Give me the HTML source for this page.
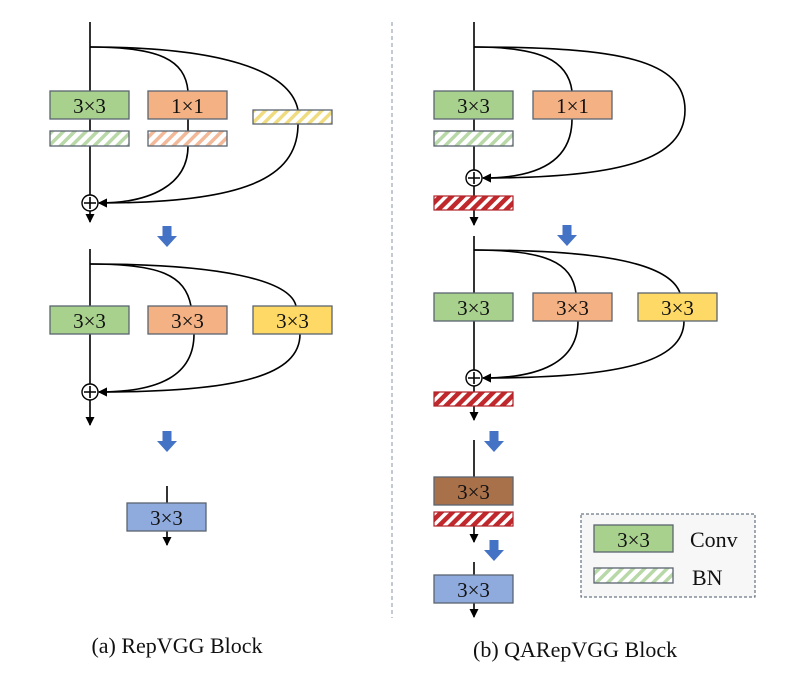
<!DOCTYPE html>
<html><head><meta charset="utf-8"><style>
html,body{margin:0;padding:0;background:#fff;width:790px;height:682px;overflow:hidden}
svg{display:block}
text{font-family:"Liberation Serif","Noto Serif CJK SC",serif}
</style></head><body>
<svg width="790" height="682" viewBox="0 0 790 682" xmlns="http://www.w3.org/2000/svg">
<defs>
<pattern id="hg" patternUnits="userSpaceOnUse" width="8" height="8" patternTransform="rotate(45)"><rect width="8" height="8" fill="#fff"/><rect width="3.5" height="8" fill="#b8d8a8"/></pattern>
<pattern id="ho" patternUnits="userSpaceOnUse" width="8" height="8" patternTransform="rotate(45)"><rect width="8" height="8" fill="#fff"/><rect width="3.5" height="8" fill="#f2b898"/></pattern>
<pattern id="hy" patternUnits="userSpaceOnUse" width="8" height="8" patternTransform="rotate(45)"><rect width="8" height="8" fill="#fff"/><rect width="3.5" height="8" fill="#f0dc80"/></pattern>
<pattern id="hr" patternUnits="userSpaceOnUse" width="8" height="8" patternTransform="rotate(45)"><rect width="8" height="8" fill="#fff"/><rect width="4.5" height="8" fill="#c0282c"/></pattern>
<marker id="ar" markerWidth="9" markerHeight="9" refX="8" refY="4.5" orient="auto" markerUnits="userSpaceOnUse"><path d="M0,0 L9,4.5 L0,9 z" fill="#000"/></marker>
<g id="barrow"><rect x="-4.5" y="0" width="9" height="11" fill="#4472c4"/><path d="M-10,10 L10,10 L0,21 z" fill="#4472c4"/></g>
</defs>
<g stroke="#000" stroke-width="1.6" fill="none">
<line x1="90" y1="22" x2="90" y2="195"/>
<line x1="90" y1="211" x2="90" y2="222" marker-end="url(#ar)"/>
<path d="M90,47 C160,47 185,60 188,91"/>
<path d="M188,146 C188,185 150,203 99,203" marker-end="url(#ar)"/>
<path d="M90,47 C220,47 290,70 298,110"/>
<path d="M298,124 C298,180 240,203 99,203" marker-end="url(#ar)"/>
<line x1="188" y1="119" x2="188" y2="131"/>
<line x1="90" y1="249" x2="90" y2="384"/>
<line x1="90" y1="400" x2="90" y2="425" marker-end="url(#ar)"/>
<path d="M90,264 C160,264 185,275 191,306"/>
<path d="M194,334 C194,375 160,392 99,392" marker-end="url(#ar)"/>
<path d="M90,264 C220,264 290,280 296,306"/>
<path d="M300,334 C300,375 240,392 99,392" marker-end="url(#ar)"/>
<line x1="167" y1="486" x2="167" y2="503"/>
<line x1="167" y1="531" x2="167" y2="545" marker-end="url(#ar)"/>
<line x1="474" y1="22" x2="474" y2="170"/>
<line x1="474" y1="186" x2="474" y2="196"/>
<line x1="474" y1="210" x2="474" y2="225" marker-end="url(#ar)"/>
<path d="M474,47 C540,47 568,60 572,91"/>
<path d="M572,119 C572,160 540,178 483,178" marker-end="url(#ar)"/>
<path d="M474,47 C620,47 685,60 685,110 C685,160 620,178 483,178" marker-end="url(#ar)"/>
<line x1="474" y1="236" x2="474" y2="370"/>
<line x1="474" y1="386" x2="474" y2="392"/>
<line x1="474" y1="406" x2="474" y2="420" marker-end="url(#ar)"/>
<path d="M474,250 C545,250 572,262 576,293"/>
<path d="M578,321 C578,362 540,378 483,378" marker-end="url(#ar)"/>
<path d="M474,250 C610,250 670,265 680,293"/>
<path d="M684,321 C684,362 620,378 483,378" marker-end="url(#ar)"/>
<line x1="474" y1="440" x2="474" y2="477"/>
<line x1="474" y1="526" x2="474" y2="542" marker-end="url(#ar)"/>
<line x1="474" y1="562" x2="474" y2="575"/>
<line x1="474" y1="603" x2="474" y2="617" marker-end="url(#ar)"/>
</g>
<g stroke="#000" stroke-width="1.4" fill="#fff">
<circle cx="90" cy="203" r="8"/><circle cx="90" cy="392" r="8"/>
<circle cx="474" cy="178" r="8"/><circle cx="474" cy="378" r="8"/>
</g>
<g stroke="#000" stroke-width="1.6">
<path d="M84,203 H96 M90,197 V209"/><path d="M84,392 H96 M90,386 V398"/>
<path d="M468,178 H480 M474,172 V184"/><path d="M468,378 H480 M474,372 V384"/>
</g>
<g stroke="#5a6470" stroke-width="1.3">
<rect x="50" y="91" width="79" height="28" fill="#a9d18e"/>
<rect x="148" y="91" width="79" height="28" fill="#f4b183"/>
<rect x="50" y="131" width="79" height="15" fill="url(#hg)"/>
<rect x="148" y="131" width="79" height="15" fill="url(#ho)"/>
<rect x="253" y="110" width="79" height="14" fill="url(#hy)"/>
<rect x="50" y="306" width="79" height="28" fill="#a9d18e"/>
<rect x="148" y="306" width="79" height="28" fill="#f4b183"/>
<rect x="253" y="306" width="79" height="28" fill="#ffd966"/>
<rect x="127" y="503" width="79" height="28" fill="#8faadc"/>
<rect x="434" y="91" width="79" height="28" fill="#a9d18e"/>
<rect x="533" y="91" width="79" height="28" fill="#f4b183"/>
<rect x="434" y="131" width="79" height="15" fill="url(#hg)"/>
<rect x="434" y="293" width="79" height="28" fill="#a9d18e"/>
<rect x="533" y="293" width="79" height="28" fill="#f4b183"/>
<rect x="638" y="293" width="79" height="28" fill="#ffd966"/>
<rect x="434" y="477" width="79" height="28" fill="#a9714a"/>
<rect x="434" y="575" width="79" height="28" fill="#8faadc"/>
</g>
<g stroke="#b02026" stroke-width="1.2">
<rect x="434" y="196" width="79" height="14" fill="url(#hr)"/>
<rect x="434" y="392" width="79" height="14" fill="url(#hr)"/>
<rect x="434" y="512" width="79" height="14" fill="url(#hr)"/>
</g>
<use href="#barrow" x="167" y="226"/>
<use href="#barrow" x="167" y="431"/>
<use href="#barrow" x="567" y="225"/>
<use href="#barrow" x="494" y="431"/>
<use href="#barrow" x="494" y="540"/>
<line x1="392" y1="22" x2="392" y2="618" stroke="#8a96a8" stroke-width="1" stroke-dasharray="4,3"/>
<rect x="581" y="514" width="174" height="83" fill="#f7f7f7" stroke="#44546a" stroke-width="1" stroke-dasharray="3,2"/>
<rect x="594" y="525" width="79" height="27" fill="#a9d18e" stroke="#5a6470" stroke-width="1.3"/>
<rect x="594" y="568" width="79" height="15" fill="url(#hg)" stroke="#5a6470" stroke-width="1.3"/>
<g font-size="21" text-anchor="middle" fill="#111">
<text x="89.5" y="113">3×3</text><text x="187.5" y="113">1×1</text>
<text x="89.5" y="328">3×3</text><text x="187.5" y="328">3×3</text><text x="292.5" y="328">3×3</text>
<text x="166.5" y="525">3×3</text>
<text x="473.5" y="113">3×3</text><text x="572.5" y="113">1×1</text>
<text x="473.5" y="315">3×3</text><text x="572.5" y="315">3×3</text><text x="677.5" y="315">3×3</text>
<text x="473.5" y="499">3×3</text><text x="473.5" y="597">3×3</text>
<text x="633.5" y="547">3×3</text>
</g>
<text x="690" y="547" font-size="22" fill="#111">Conv</text>
<text x="692" y="585" font-size="22" fill="#111">BN</text>
<text x="177" y="653" font-size="22" text-anchor="middle" fill="#111">(a) RepVGG Block</text>
<text x="473" y="657" font-size="22" fill="#111">(b) QARepVGG Block</text>
</svg>
</body></html>
